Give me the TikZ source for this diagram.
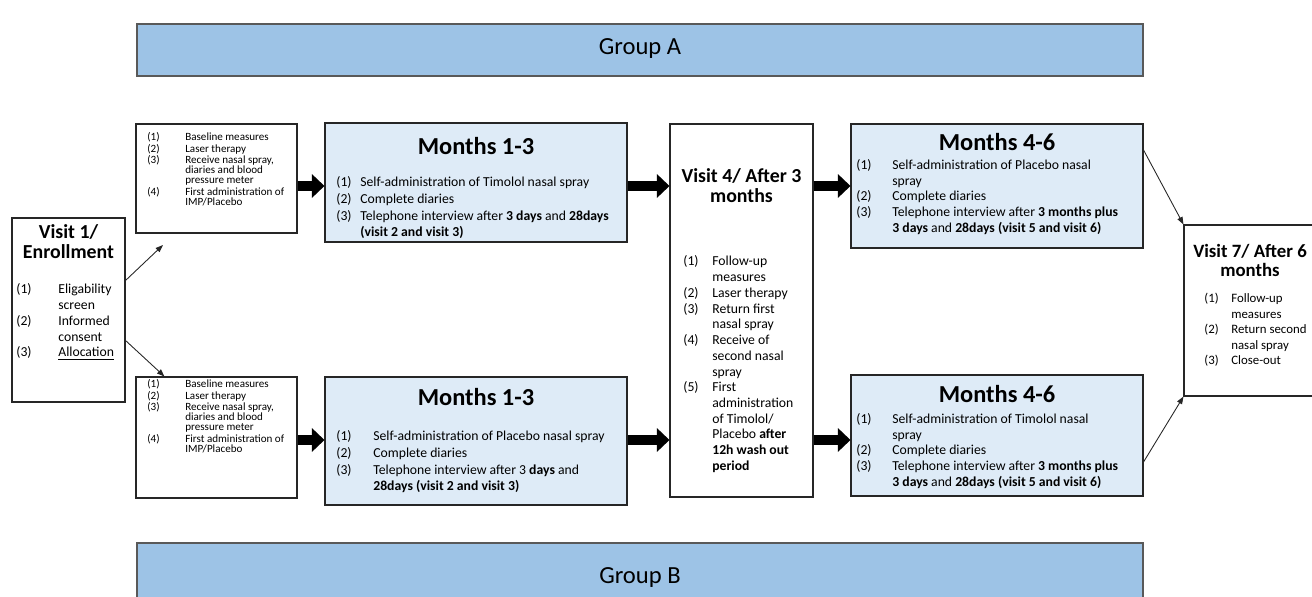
\documentclass[tikz,border=0pt]{standalone}
\usepackage{fontspec}
\setmainfont{Carlito}
\usetikzlibrary{arrows.meta,fit,calc}

\definecolor{groupfill}{HTML}{9DC3E6}
\definecolor{phasefill}{HTML}{DEEBF7}

\newcommand{\setfs}[2]{\fontsize{#1}{#2}\selectfont}
\newcommand{\steplist}[2]{\begin{tabular}[t]{@{}p{#1}@{}l@{}}#2\end{tabular}}
\newcommand{\titlestack}[1]{\begin{tabular}[t]{@{}c@{}}#1\end{tabular}}

\tikzset{
    frame/.style = {draw = black!85, line width = 0.6pt, fill = white, inner sep = 0pt},
    phasebox/.style = {frame, fill = phasefill},
    groupbar/.style = {draw = black!65, line width = 0.6pt, fill = groupfill, inner sep = 0pt},
    blockarrow/.style = {line width = 0.2cm, -{Triangle[length = 0.25cm, width = 0.46cm]}},
    thinarrow/.style = {line width = 0.5pt, draw = black!85, -{Triangle[length = 0.15cm, width = 0.11cm]}},
    listtxt/.style = {inner sep = 0pt, anchor = base west},
    boxtitle/.style = {inner sep = 0pt, anchor = base}
}

\begin{document}
\begin{tikzpicture}[x = 0.02cm, y = -0.02cm]
    \useasboundingbox (0,0) rectangle (1312,597);
    \clip (0,0) rectangle (1312,597);

    % group bars
    \node[groupbar, fit = {(137,24) (1143,76)}] (grpA) {};
    \node[boxtitle, font = \setfs{14}{16}] (grpAt) at (640,55) {Group A};
    \node[groupbar, fit = {(137,543) (1143,607)}] (grpB) {};
    \node[boxtitle, font = \setfs{14}{16}] (grpBt) at (640,583) {Group B};

    % boxes
    \node[frame, fit = {(12,218) (125,402)}] (visit1) {};
    \node[frame, fit = {(136,124) (297,233)}] (prepA) {};
    \node[frame, fit = {(136,377) (297,498)}] (prepB) {};
    \node[phasebox, fit = {(325,123) (627,242)}] (monA1) {};
    \node[phasebox, fit = {(325,377) (627,505)}] (monB1) {};
    \node[frame, fit = {(670,124) (813,497)}] (visit4) {};
    \node[phasebox, fit = {(851,124) (1143,248)}] (monA2) {};
    \node[phasebox, fit = {(851,375) (1143,496)}] (monB2) {};
    \node[frame, fit = {(1184,225) (1330,396)}] (visit7) {};

    % visit 1
    \node[boxtitle, font = \setfs{11.3}{11.3}\bfseries] (visit1t) at (68.5,239) {\titlestack{Visit 1/\\Enrollment}};
    \node[listtxt, font = \setfs{7.8}{8.95}] (visit1l) at (16,294) {\steplist{0.84cm}{
        (1) & Eligability\\ & screen\\ (2) & Informed\\ & consent\\ (3) & \underline{Allocation}}};

    % baseline visit
    \begin{scope}[every node/.append style = {font = \setfs{6.3}{5.7}}]
        \node[listtxt] (prepAl) at (147,141) {\steplist{0.76cm}{
            (1) & Baseline measures\\ (2) & Laser therapy\\ (3) & Receive nasal spray,\\ & diaries and blood\\
            & pressure meter\\ (4) & First administration of\\ & IMP/Placebo}};
        \node[listtxt] (prepBl) at (147,388) {\steplist{0.76cm}{
            (1) & Baseline measures\\ (2) & Laser therapy\\ (3) & Receive nasal spray,\\ & diaries and blood\\
            & pressure meter\\ (4) & First administration of\\ & IMP/Placebo}};
    \end{scope}

    % months 1-3
    \node[boxtitle, font = \setfs{13.9}{16}\bfseries] (monA1t) at (476,154.5) {Months 1-3};
    \node[listtxt, font = \setfs{7.8}{9.45}] (monA1l) at (336,187) {\steplist{0.48cm}{
        (1) & Self-administration of Timolol nasal spray\\ (2) & Complete diaries\\
        (3) & Telephone interview after \textbf{3 days} and \textbf{28days}\\ & \textbf{(visit 2 and visit 3)}}};
    \node[boxtitle, font = \setfs{13.9}{16}\bfseries] (monB1t) at (476,405.5) {Months 1-3};
    \node[listtxt, font = \setfs{7.8}{9.45}] (monB1l) at (336,441) {\steplist{0.74cm}{
        (1) & Self-administration of Placebo nasal spray\\ (2) & Complete diaries\\
        (3) & Telephone interview after 3 \textbf{days} and\\ & \textbf{28days (visit 2 and visit 3)}}};

    % visit 4
    \node[boxtitle, font = \setfs{11.3}{11.3}\bfseries] (visit4t) at (741.5,183) {\titlestack{Visit 4/ After 3\\months}};
    \node[listtxt, font = \setfs{7.8}{8.95}] (visit4l) at (683,266) {\steplist{0.58cm}{
        (1) & Follow-up\\ & measures\\ (2) & Laser therapy\\ (3) & Return first\\ & nasal spray\\
        (4) & Receive of\\ & second nasal\\ & spray\\ (5) & First\\ & administration\\ & of Timolol/\\
        & Placebo \textbf{after}\\ & \textbf{12h wash out}\\ & \textbf{period}}};

    % months 4-6
    \node[boxtitle, font = \setfs{13.9}{16}\bfseries] (monA2t) at (997,150.5) {Months 4-6};
    \node[listtxt, font = \setfs{7.8}{8.9}] (monA2l) at (856,169.5) {\steplist{0.72cm}{
        (1) & Self-administration of Placebo nasal\\ & spray\\ (2) & Complete diaries\\
        (3) & Telephone interview after \textbf{3 months plus}\\ & \textbf{3 days} and \textbf{28days (visit 5 and visit 6)}}};
    \node[boxtitle, font = \setfs{13.9}{16}\bfseries] (monB2t) at (997,402.5) {Months 4-6};
    \node[listtxt, font = \setfs{7.8}{8.9}] (monB2l) at (856,423.5) {\steplist{0.72cm}{
        (1) & Self-administration of Timolol nasal\\ & spray\\ (2) & Complete diaries\\
        (3) & Telephone interview after \textbf{3 months plus}\\ & \textbf{3 days} and \textbf{28days (visit 5 and visit 6)}}};

    % visit 7
    \node[boxtitle, font = \setfs{10.7}{10.8}\bfseries] (visit7t) at (1250,258) {\titlestack{Visit 7/ After 6\\months}};
    \node[listtxt, font = \setfs{7.3}{8.8}] (visit7l) at (1204,303) {\steplist{0.54cm}{
        (1) & Follow-up\\ & measures\\ (2) & Return second\\ & nasal spray\\ (3) & Close-out}};

    % arrows
    \coordinate (rowA) at (0,186);
    \coordinate (rowB) at (0,440);
    \draw[blockarrow] (prepA.east |- rowA) -- (monA1.west |- rowA);
    \draw[blockarrow] (monA1.east |- rowA) -- (visit4.west |- rowA);
    \draw[blockarrow] (visit4.east |- rowA) -- (monA2.west |- rowA);
    \draw[blockarrow] (prepB.east |- rowB) -- (monB1.west |- rowB);
    \draw[blockarrow] (monB1.east |- rowB) -- (visit4.west |- rowB);
    \draw[blockarrow] (visit4.east |- rowB) -- (monB2.west |- rowB);

    \coordinate (v1outA) at (125,281);
    \coordinate (v1outB) at (125,340);
    \coordinate (prepAin) at (163,245);
    \draw[thinarrow] (v1outA) -- (prepAin);
    \draw[thinarrow] (v1outB) -- ($(prepB.north west)+(29,0)$);
    \draw[thinarrow] (monA2.east |- 0,150) -- (visit7.north west);
    \draw[thinarrow] (monB2.east |- 0,462) -- (visit7.south west);
\end{tikzpicture}
\end{document}
